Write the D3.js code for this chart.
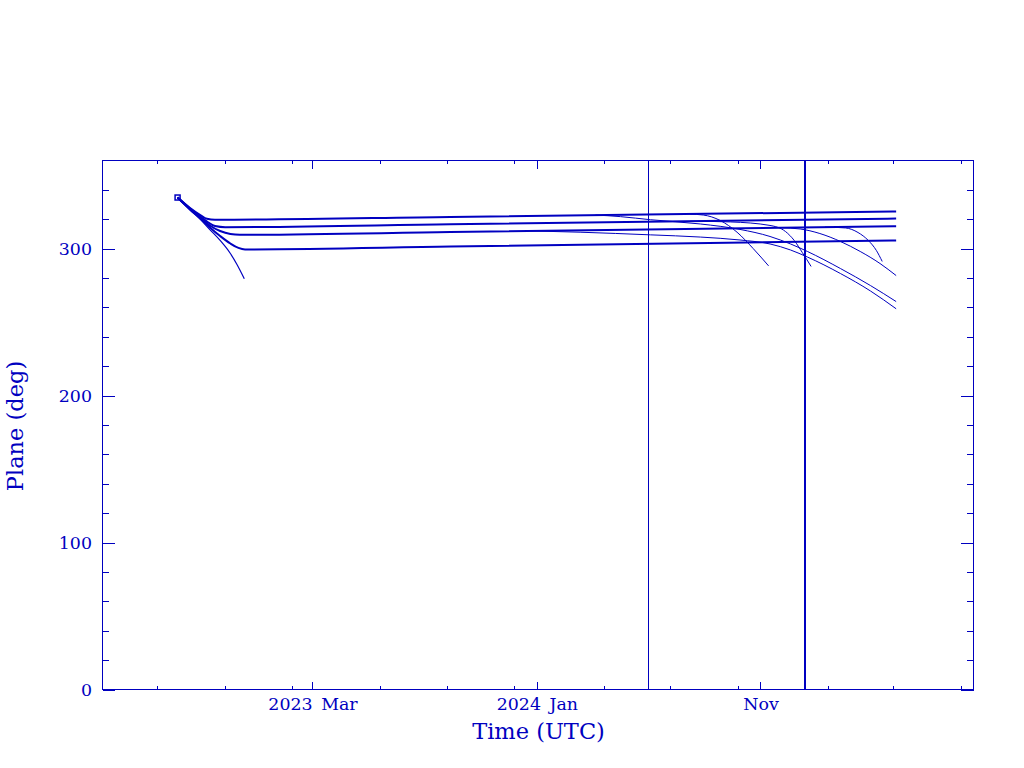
<!DOCTYPE html>
<html>
<head>
<meta charset="utf-8">
<script src="https://cdn.jsdelivr.net/npm/d3@7"></script>
<style>
html, body { margin: 0; padding: 0; background: #ffffff; }
svg { display: block; }
</style>
</head>
<body>
<svg id="chart" width="1024" height="768"></svg>
<script>
// ---------------- data ----------------
const startDate = "2022-08-29";
const startPlane = 334.8;

// four main groups that settle near 320, 315, 310 and 300 deg
const g1Dates = ["2022-08-29","2022-09-15","2022-09-29","2022-10-08","2022-10-19","2023-09-05","2025-05-05"];
const g1Plane = [334.8, 327.7, 322.9, 320.3, 319.7, 321.6, 325.3];

const g2Dates = ["2022-08-29","2022-09-15","2022-09-29","2022-10-10","2022-10-19","2022-11-02","2023-09-05","2025-05-05"];
const g2Plane = [334.8, 327.3, 321.9, 317.8, 315.4, 314.6, 316.6, 320.5];

const g3Dates = ["2022-08-29","2022-09-15","2022-09-29","2022-10-12","2022-10-26","2022-11-09","2022-11-22","2023-09-05","2025-05-05"];
const g3Plane = [334.8, 327.0, 321.2, 315.8, 312.0, 310.0, 309.5, 311.3, 315.3];

const g4Dates = ["2022-08-29","2022-09-15","2022-09-29","2022-10-12","2022-10-26","2022-11-09","2022-11-20","2022-11-29","2023-09-05","2025-05-05"];
const g4Plane = [334.8, 326.7, 320.5, 314.4, 308.6, 303.5, 300.5, 299.5, 301.4, 305.6];

// early decaying object
const d1Dates = ["2022-08-29","2022-09-15","2022-09-29","2022-10-12","2022-10-26","2022-11-09","2022-11-18","2022-11-28"];
const d1Plane = [334.8, 326.3, 319.9, 313.0, 305.6, 296.7, 289.2, 279.5];

// later branches leaving the groups
const b1Dates = ["2024-07-28","2024-08-15","2024-09-07","2024-09-30","2024-10-22","2024-11-12"];
const b1Plane = [323.5, 322.9, 319.2, 311.2, 300.1, 288.3];

const b2Dates = ["2024-07-28","2024-09-21","2024-11-14","2024-12-05","2024-12-17","2024-12-28","2025-01-09"];
const b2Plane = [318.7, 318.2, 315.8, 311.7, 305.6, 297.4, 287.9];

const b3Dates = ["2025-01-28","2025-02-25","2025-03-14","2025-03-28","2025-04-08","2025-04-16"];
const b3Plane = [314.7, 314.1, 311.0, 305.6, 298.8, 291.3];

const b4Dates = ["2024-11-28","2024-12-25","2025-01-21","2025-02-18","2025-03-17","2025-04-13","2025-05-05"];
const b4Plane = [314.3, 313.4, 310.3, 304.9, 298.1, 289.9, 281.7];

const b5Dates = ["2024-03-21","2024-04-24","2024-06-04","2024-08-11","2024-10-04","2024-11-14","2024-12-12","2025-01-04","2025-02-18","2025-03-31","2025-05-05"];
const b5Plane = [322.9, 321.8, 319.7, 316.8, 313.1, 308.3, 303.2, 298.1, 286.5, 274.9, 264.0];

const b6Dates = ["2023-12-23","2024-02-29","2024-06-04","2024-08-11","2024-10-04","2024-11-14","2024-12-12","2025-01-04","2025-02-18","2025-03-31","2025-05-05"];
const b6Plane = [312.1, 311.2, 309.4, 307.9, 305.9, 303.2, 299.1, 294.3, 283.1, 271.2, 259.1];

// vertical reference lines
const thinLineDate = "2024-06-01";
const thickLineDate = "2025-01-01";

// axes
const xDomain = ["2022-05-18T14:24:00Z", "2025-08-18T12:00:00Z"];
const yDomain = [0, 360];
const xMajorTicks = ["2023-03-01","2024-01-01","2024-11-01"];
const xMajorLabels = ["2023 Mar","2024 Jan","Nov"];
const xMinorTicks = ["2022-08-01","2022-11-01","2023-02-01","2023-06-01","2023-09-01","2023-12-01",
                     "2024-04-01","2024-07-01","2024-10-01","2025-02-01","2025-05-01","2025-08-01"];
const yMajorTicks = [0, 100, 200, 300];
const yMinorTicks = [20,40,60,80,120,140,160,180,220,240,260,280,320,340];
const xTitle = "Time (UTC)";
const yTitle = "Plane (deg)";

// ---------------- drawing ----------------
(function () {
const BLUE = "#0000c0";
const FONT = "'DejaVu Serif', 'Liberation Serif', serif";
const parseDay = d3.utcParse("%Y-%m-%d");
const svg = d3.select("#chart");

const pL = 102.5, pR = 973.5, pT = 160.5, pB = 689.5;
const x = d3.scaleUtc().domain(xDomain.map(s => new Date(s))).range([pL, pR]);
const y = d3.scaleLinear().domain(yDomain).range([pB, pT]);

function styleAxis(g, fontSize) {
  g.select(".domain").remove();
  g.selectAll(".tick line").attr("stroke", BLUE).attr("shape-rendering", "crispEdges");
  g.selectAll(".tick text").attr("fill", BLUE)
    .attr("font-family", FONT).attr("font-size", fontSize).style("word-spacing", "3px");
  g.attr("font-family", null).attr("font-size", null);
}

// bottom major + labels
svg.append("g").attr("transform", `translate(0,${pB})`)
  .call(d3.axisBottom(x).tickValues(xMajorTicks.map(parseDay))
    .tickFormat((d, i) => xMajorLabels[i]).tickSizeInner(-8).tickSizeOuter(0).tickPadding(8))
  .call(g => styleAxis(g, 17.4));
svg.append("g").attr("transform", `translate(0,${pB})`)
  .call(d3.axisBottom(x).tickValues(xMinorTicks.map(parseDay))
    .tickFormat("").tickSizeInner(-3.5).tickSizeOuter(0))
  .call(g => styleAxis(g, 17.4));
// top ticks
svg.append("g").attr("transform", `translate(0,${pT})`)
  .call(d3.axisTop(x).tickValues(xMajorTicks.map(parseDay))
    .tickFormat("").tickSizeInner(-8).tickSizeOuter(0))
  .call(g => styleAxis(g, 17.4));
svg.append("g").attr("transform", `translate(0,${pT})`)
  .call(d3.axisTop(x).tickValues(xMinorTicks.map(parseDay))
    .tickFormat("").tickSizeInner(-3.5).tickSizeOuter(0))
  .call(g => styleAxis(g, 17.4));
// left
svg.append("g").attr("transform", `translate(${pL},0)`)
  .call(d3.axisLeft(y).tickValues(yMajorTicks).tickFormat(d3.format("d"))
    .tickSizeInner(-12.5).tickSizeOuter(0).tickPadding(10.5))
  .call(g => styleAxis(g, 17.4));
svg.append("g").attr("transform", `translate(${pL},0)`)
  .call(d3.axisLeft(y).tickValues(yMinorTicks).tickFormat("")
    .tickSizeInner(-6.5).tickSizeOuter(0))
  .call(g => styleAxis(g, 17.4));
// right
svg.append("g").attr("transform", `translate(${pR},0)`)
  .call(d3.axisRight(y).tickValues(yMajorTicks).tickFormat("")
    .tickSizeInner(-12.5).tickSizeOuter(0))
  .call(g => styleAxis(g, 17.4));
svg.append("g").attr("transform", `translate(${pR},0)`)
  .call(d3.axisRight(y).tickValues(yMinorTicks).tickFormat("")
    .tickSizeInner(-6.5).tickSizeOuter(0))
  .call(g => styleAxis(g, 17.4));

// frame
svg.append("rect").attr("x", pL).attr("y", pT)
  .attr("width", pR - pL).attr("height", pB - pT)
  .attr("fill", "none").attr("stroke", BLUE).attr("stroke-width", 1)
  .attr("shape-rendering", "crispEdges");

// vertical lines
svg.append("line")
  .attr("x1", x(parseDay(thinLineDate))).attr("x2", x(parseDay(thinLineDate)))
  .attr("y1", pT).attr("y2", pB)
  .attr("stroke", BLUE).attr("stroke-width", 1).attr("shape-rendering", "crispEdges");
svg.append("line")
  .attr("x1", x(parseDay(thickLineDate))).attr("x2", x(parseDay(thickLineDate)))
  .attr("y1", pT).attr("y2", pB)
  .attr("stroke", BLUE).attr("stroke-width", 2).attr("shape-rendering", "crispEdges");

// trajectories
const line = d3.line().x(d => x(d.t)).y(d => y(d.v)).curve(d3.curveMonotoneX);
function track(dates, vals, width) {
  const pts = dates.map((s, i) => ({ t: parseDay(s), v: vals[i] }));
  svg.append("path").datum(pts).attr("d", line)
    .attr("fill", "none").attr("stroke", BLUE).attr("stroke-width", width)
    .attr("stroke-linejoin", "round");
}
track(b6Dates, b6Plane, 1);
track(b5Dates, b5Plane, 1);
track(b4Dates, b4Plane, 1);
track(b3Dates, b3Plane, 1);
track(b2Dates, b2Plane, 1);
track(b1Dates, b1Plane, 1);
track(d1Dates, d1Plane, 1.2);
track(g4Dates, g4Plane, 2);
track(g3Dates, g3Plane, 2);
track(g2Dates, g2Plane, 2);
track(g1Dates, g1Plane, 2);

// start marker
svg.append("rect")
  .attr("x", x(parseDay(startDate)) - 2.5).attr("y", y(startPlane) - 2.5)
  .attr("width", 5).attr("height", 5)
  .attr("fill", "none").attr("stroke", BLUE).attr("stroke-width", 1.5);

// axis titles
svg.append("text").attr("x", 538.5).attr("y", 739)
  .attr("text-anchor", "middle").attr("fill", BLUE)
  .attr("font-family", FONT).attr("font-size", 22.5).text(xTitle);
svg.append("text").attr("transform", "translate(22.5,426) rotate(-90)")
  .attr("text-anchor", "middle").attr("fill", BLUE)
  .attr("font-family", FONT).attr("font-size", 22.5).text(yTitle);
})();
</script>
</body>
</html>
